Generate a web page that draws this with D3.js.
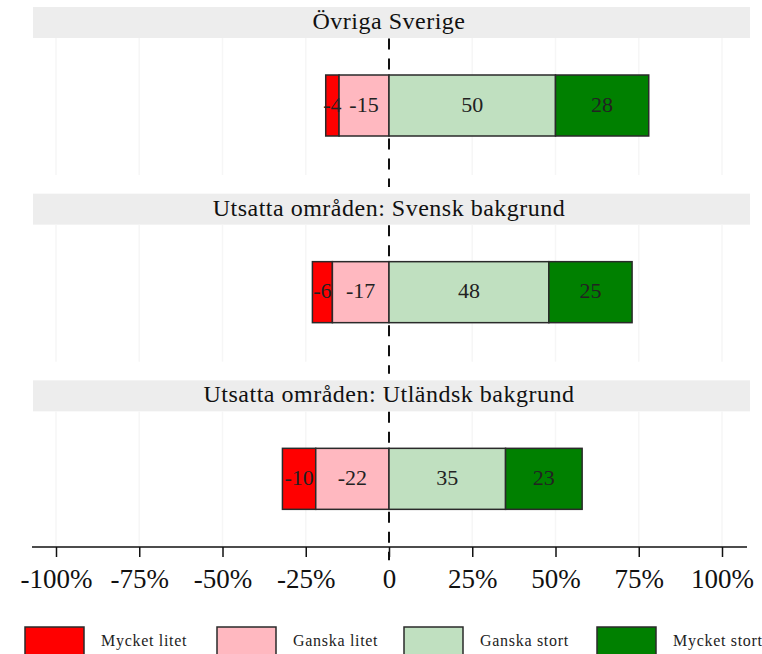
<!DOCTYPE html>
<html><head><meta charset="utf-8">
<script src="https://cdn.jsdelivr.net/npm/d3@7"></script>
<style>body{margin:0;background:#fff}svg{display:block}</style>
</head><body><svg id="c" width="762" height="654"></svg>
<script>
const groups = ["Övriga Sverige", "Utsatta områden: Svensk bakgrund", "Utsatta områden: Utländsk bakgrund"];
const categories = ["Mycket litet", "Ganska litet", "Ganska stort", "Mycket stort"];
const mycketLitet = [-4, -6, -10];
const ganskaLitet = [-15, -17, -22];
const ganskaStort = [50, 48, 35];
const mycketStort = [28, 25, 23];
const tickValues = [-100, -75, -50, -25, 0, 25, 50, 75, 100];
const tickLabels = ["-100%", "-75%", "-50%", "-25%", "0", "25%", "50%", "75%", "100%"];
const colors = ["#ff0000", "#ffb8c0", "#c0e0c0", "#008000"];

const font = "'Liberation Serif', 'Times New Roman', serif";
const svg = d3.select("#c");
const x = d3.scaleLinear().domain([-100, 100]).range([56, 722]);
const panel = d3.scaleBand().domain(groups).range([7, 567]).paddingInner(0);
const stripH = 31, barCenter = 98.5, barH = 61, panelBottom = 168;

const segs = [];
groups.forEach((g, i) => {
  const nl = ganskaLitet[i], ml = mycketLitet[i], gs = ganskaStort[i], ms = mycketStort[i];
  segs.push({g, cat: 0, x0: nl + ml, x1: nl, v: ml});
  segs.push({g, cat: 1, x0: nl, x1: 0, v: nl});
  segs.push({g, cat: 2, x0: 0, x1: gs, v: gs});
  segs.push({g, cat: 3, x0: gs, x1: gs + ms, v: ms});
});

groups.forEach(g => {
  const top = panel(g);
  svg.append("rect").attr("x", 33).attr("y", top).attr("width", 717).attr("height", stripH).attr("fill", "#ededed");
  svg.append("text").attr("x", x(0)).attr("y", top + stripH / 2 + 1).attr("text-anchor", "middle")
    .attr("dominant-baseline", "middle").attr("font-family", font).attr("font-size", 24)
    .attr("letter-spacing", 0.5).attr("fill", "#111").text(g);
  svg.selectAll(null).data(tickValues.filter(d => d !== 0)).enter().append("line")
    .attr("x1", d => x(d)).attr("x2", d => x(d)).attr("y1", top + stripH).attr("y2", top + panelBottom)
    .attr("stroke", "#f6f6f6").attr("stroke-width", 1.5);
  svg.append("line").attr("x1", x(0)).attr("x2", x(0)).attr("y1", top + stripH + 0.5).attr("y2", top + panelBottom + 12)
    .attr("stroke", "#111").attr("stroke-width", 2).attr("stroke-dasharray", "11,9");
});

svg.selectAll("rect.seg").data(segs).enter().append("rect").attr("class", "seg")
  .attr("x", d => x(d.x0)).attr("width", d => x(d.x1) - x(d.x0))
  .attr("y", d => panel(d.g) + barCenter - barH / 2).attr("height", barH)
  .attr("fill", d => colors[d.cat]).attr("stroke", "#2a2a2a").attr("stroke-width", 1.5);

svg.selectAll("text.lab").data(segs).enter().append("text").attr("class", "lab")
  .attr("x", d => x((d.x0 + d.x1) / 2)).attr("y", d => panel(d.g) + barCenter + 1)
  .attr("text-anchor", "middle").attr("dominant-baseline", "middle")
  .attr("font-family", font).attr("font-size", 22).attr("fill", "#222").text(d => d.v);

const axisY = 547;
const axis = svg.append("g").attr("transform", `translate(0,${axisY})`)
  .call(d3.axisBottom(x).tickValues(tickValues).tickFormat((d, i) => tickLabels[i]).tickSize(10).tickPadding(12));
axis.select(".domain").remove();
axis.append("line").attr("x1", 32).attr("x2", 747).attr("stroke", "#111").attr("stroke-width", 1.5);
axis.selectAll(".tick line").attr("stroke", "#111").attr("stroke-width", 1.5);
axis.selectAll(".tick text").attr("font-family", font).attr("font-size", 27).attr("fill", "#111");

const legX = [25, 217, 404, 597];
const lg = svg.selectAll("g.leg").data(categories).enter().append("g").attr("class", "leg");
lg.append("rect").attr("x", (d, i) => legX[i]).attr("y", 627).attr("width", 59).attr("height", 28)
  .attr("fill", (d, i) => colors[i]).attr("stroke", "#2a2a2a").attr("stroke-width", 1.5);
lg.append("text").attr("x", (d, i) => legX[i] + 76).attr("y", 642).attr("dominant-baseline", "middle")
  .attr("font-family", font).attr("font-size", 16).attr("letter-spacing", 0.7).attr("fill", "#222").text(d => d);
</script></body></html>
